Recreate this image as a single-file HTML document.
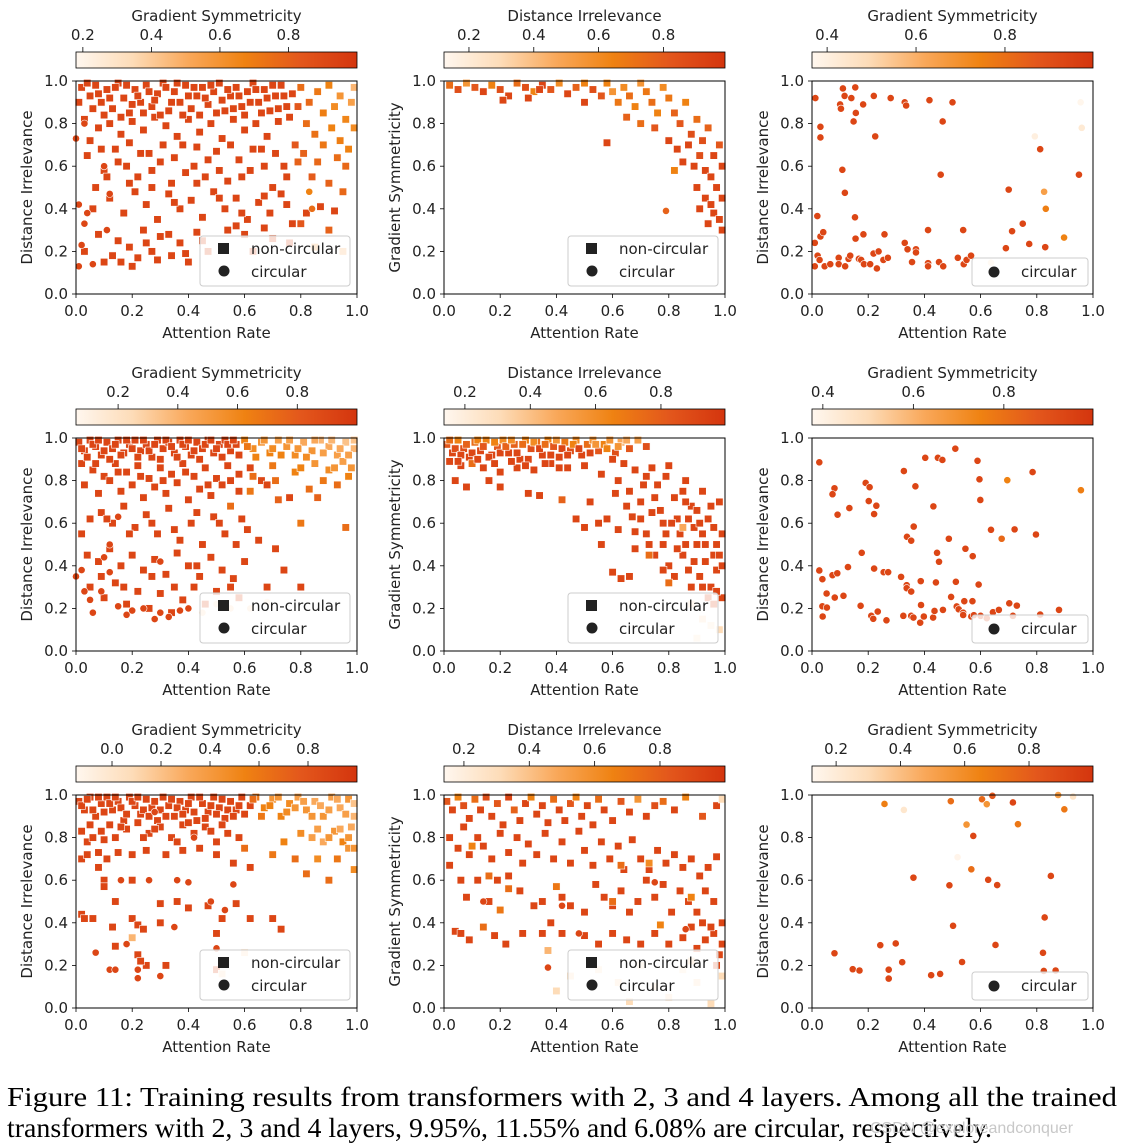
<!DOCTYPE html>
<html><head><meta charset="utf-8">
<style>
html,body{margin:0;padding:0;background:#fff;}
svg{display:block;font-family:"DejaVu Sans","Liberation Sans",sans-serif;}
</style></head>
<body>
<svg id="fig" width="1127" height="1147" viewBox="0 0 1127 1147" xmlns="http://www.w3.org/2000/svg">
<defs>
<linearGradient id="cmap" x1="0" x2="1" y1="0" y2="0">
<stop offset="0" stop-color="#fff7ef"/><stop offset="0.2" stop-color="#fddcb8"/><stop offset="0.4" stop-color="#f9a85a"/><stop offset="0.6" stop-color="#ef8212"/><stop offset="0.8" stop-color="#e3571c"/><stop offset="1" stop-color="#d4350e"/>
</linearGradient>
</defs>
<g id="panels"></g>
<text x="7" y="1106" font-family="Liberation Serif, serif" font-size="27" textLength="1110" lengthAdjust="spacingAndGlyphs">Figure 11: Training results from transformers with 2, 3 and 4 layers.  Among all the trained</text>
<text x="7" y="1137" font-family="Liberation Serif, serif" font-size="27" textLength="985" lengthAdjust="spacingAndGlyphs">transformers with 2, 3 and 4 layers, 9.95%, 11.55% and 6.08% are circular, respectively.</text>
<text x="870" y="1133" font-size="16" fill="#c8c8c8" font-family="Liberation Sans, sans-serif">CSDN @exploreandconquer</text>
</svg>
<script>
// ---- data (x, y, colour value in colormap position; default 0.9) ----
const p1sq=[[0.02,0.97],[0.05,0.93],[0.07,0.98],[0.09,0.9],[0.11,0.96],[0.13,0.87],[0.15,0.99],[0.17,0.92],[0.19,0.85],[0.21,0.96],[0.23,0.9],[0.25,0.98],[0.27,0.88],[0.29,0.94],[0.31,0.99],[0.33,0.86],[0.35,0.95],[0.37,0.9],[0.39,0.98],[0.41,0.87],[0.43,0.93],[0.45,0.97],[0.47,0.89],[0.49,0.95],[0.51,0.99],[0.53,0.86],[0.55,0.93],[0.57,0.97],[0.59,0.88],[0.61,0.95],[0.63,0.99],[0.65,0.9],[0.67,0.96],[0.69,0.86],[0.71,0.93],[0.73,0.98],[0.75,0.88],[0.77,0.94],[0.03,0.82],[0.08,0.78],[0.12,0.8],[0.16,0.75],[0.2,0.81],[0.24,0.77],[0.28,0.83],[0.32,0.79],[0.36,0.74],[0.4,0.82],[0.44,0.76],[0.48,0.8],[0.52,0.73],[0.56,0.82],[0.6,0.77],[0.64,0.8],[0.68,0.74],[0.72,0.81],[0.04,0.65],[0.1,0.58],[0.14,0.68],[0.18,0.6],[0.22,0.55],[0.26,0.66],[0.3,0.62],[0.34,0.52],[0.38,0.7],[0.42,0.6],[0.46,0.55],[0.5,0.67],[0.54,0.53],[0.58,0.63],[0.62,0.58],[0.66,0.68],[0.7,0.5],[0.74,0.6],[0.06,0.4],[0.12,0.45],[0.17,0.38],[0.21,0.48],[0.25,0.42],[0.29,0.35],[0.33,0.47],[0.37,0.4],[0.41,0.44],[0.45,0.36],[0.49,0.48],[0.53,0.4],[0.57,0.45],[0.61,0.35],[0.65,0.43],[0.69,0.38],[0.73,0.47],[0.77,0.33],[0.82,0.38],[0.87,0.41],[0.92,0.39],[0.08,0.28],[0.13,0.18],[0.16,0.15],[0.19,0.22],[0.22,0.17],[0.24,0.3],[0.27,0.2],[0.3,0.27],[0.34,0.18],[0.37,0.24],[0.4,0.15],[0.43,0.29],[0.47,0.2],[0.54,0.3],[0.6,0.28],[0.67,0.31],[0.85,0.22,0.5],[0.95,0.2,0.4],[0.8,0.97,0.7],[0.83,0.9,0.72],[0.86,0.95,0.65],[0.88,0.85,0.62],[0.9,0.98,0.6],[0.92,0.88,0.55],[0.94,0.93,0.5],[0.96,0.82,0.58],[0.98,0.9,0.45],[0.99,0.97,0.35],[0.82,0.8,0.7],[0.85,0.75,0.68],[0.88,0.7,0.65],[0.91,0.78,0.6],[0.94,0.72,0.62],[0.97,0.68,0.6],[0.99,0.78,0.55],[0.81,0.66,0.75],[0.86,0.62,0.72],[0.93,0.64,0.7],[0.96,0.6,0.72],[0.84,0.55,0.78],[0.9,0.52,0.75],[0.95,0.48,0.72],[0.78,0.7,0.8],[0.79,0.88,0.8]];
const p1sqB=[[0.01,0.9],[0.04,0.99],[0.06,0.87],[0.08,0.94],[0.1,0.84],[0.12,0.92],[0.14,0.97],[0.16,0.83],[0.18,0.98],[0.2,0.89],[0.22,0.93],[0.24,0.85],[0.26,0.95],[0.28,0.91],[0.3,0.84],[0.32,0.97],[0.34,0.9],[0.36,0.99],[0.38,0.84],[0.4,0.93],[0.42,0.97],[0.44,0.84],[0.46,0.92],[0.48,0.98],[0.5,0.85],[0.52,0.91],[0.54,0.96],[0.56,0.87],[0.58,0.93],[0.6,0.84],[0.62,0.9],[0.64,0.96],[0.66,0.85],[0.68,0.92],[0.7,0.98],[0.72,0.87],[0.74,0.93],[0.76,0.83],[0.05,0.72],[0.09,0.68],[0.15,0.62],[0.19,0.71],[0.23,0.66],[0.27,0.58],[0.31,0.7],[0.35,0.64],[0.39,0.57],[0.43,0.69],[0.47,0.63],[0.51,0.58],[0.55,0.7],[0.59,0.55],[0.63,0.68],[0.67,0.6],[0.71,0.66],[0.75,0.55],[0.79,0.62,0.75],[0.07,0.5],[0.11,0.55],[0.19,0.52],[0.27,0.5],[0.35,0.43],[0.43,0.52],[0.51,0.45],[0.59,0.38],[0.67,0.46],[0.75,0.42],[0.03,0.2],[0.1,0.15],[0.15,0.25],[0.2,0.13],[0.25,0.24],[0.29,0.16],[0.33,0.28],[0.39,0.19],[0.45,0.25],[0.52,0.22],[0.57,0.32],[0.63,0.2],[0.7,0.26],[0.76,0.24],[0.8,0.33,0.8],[0.9,0.3,0.75]];
const p1ci=[[0.01,0.13],[0.02,0.23],[0.03,0.33],[0.04,0.38],[0.01,0.42],[0.06,0.14],[0.11,0.3],[0.12,0.47],[0.0,0.73],[0.03,0.8],[0.1,0.6],[0.83,0.48,0.6],[0.84,0.4,0.7]];

const p2sq=[[0.02,0.98,0.7],[0.05,0.96,0.85],[0.08,0.99,0.5],[0.11,0.97,0.8],[0.14,0.95,0.9],[0.17,0.98,0.6],[0.2,0.96,0.85],[0.23,0.93,0.9],[0.26,0.99,0.7],[0.29,0.97,0.85],[0.32,0.95,0.6],[0.35,0.98,0.9],[0.38,0.96,0.8],[0.41,0.99,0.55],[0.44,0.94,0.9],[0.47,0.97,0.75],[0.5,0.99,0.6],[0.53,0.96,0.85],[0.56,0.93,0.8],[0.21,0.91,0.9],[0.3,0.92,0.9],[0.58,0.99,0.6],[0.6,0.95,0.5],[0.62,0.9,0.65],[0.64,0.97,0.55],[0.66,0.93,0.7],[0.68,0.88,0.6],[0.7,0.99,0.5],[0.72,0.95,0.65],[0.74,0.9,0.7],[0.76,0.85,0.6],[0.78,0.97,0.55],[0.8,0.92,0.65],[0.65,0.83,0.75],[0.7,0.8,0.7],[0.75,0.78,0.8],[0.82,0.85,0.75],[0.84,0.8,0.8],[0.86,0.9,0.6],[0.88,0.75,0.85],[0.9,0.82,0.7],[0.92,0.72,0.85],[0.94,0.78,0.75],[0.96,0.65,0.9],[0.98,0.7,0.8],[0.99,0.6,0.9],[0.8,0.72],[0.83,0.68],[0.85,0.62],[0.87,0.7],[0.89,0.6],[0.91,0.65,0.85],[0.93,0.58],[0.95,0.55],[0.97,0.5],[0.99,0.45],[0.9,0.5],[0.93,0.45],[0.96,0.38],[0.98,0.35],[0.99,0.3],[0.94,0.33],[0.91,0.4],[0.95,0.42],[0.82,0.58,0.6],[0.58,0.71],[0.5,0.9],[0.34,0.96]];
const p2ci=[[0.79,0.39,0.75]];

const p3ci=[[0.012,0.92],[0.11,0.965],[0.154,0.97],[0.116,0.93],[0.14,0.92],[0.1,0.89],[0.103,0.87],[0.182,0.89],[0.156,0.85],[0.148,0.81],[0.22,0.93],[0.28,0.92],[0.33,0.9],[0.335,0.885],[0.418,0.91],[0.5,0.9],[0.465,0.81],[0.03,0.785],[0.03,0.735],[0.225,0.74],[0.108,0.583],[0.117,0.475],[0.458,0.56],[0.019,0.366],[0.153,0.36],[0.03,0.27],[0.04,0.29],[0.155,0.26],[0.183,0.28],[0.258,0.28],[0.413,0.3],[0.538,0.3],[0.01,0.24],[0.02,0.18],[0.027,0.16],[0.01,0.13],[0.045,0.13],[0.065,0.14],[0.095,0.17],[0.095,0.14],[0.118,0.13],[0.13,0.165],[0.136,0.18],[0.167,0.165],[0.175,0.16],[0.185,0.14],[0.207,0.14],[0.219,0.19],[0.237,0.2],[0.231,0.12],[0.254,0.16],[0.27,0.17],[0.33,0.24],[0.34,0.21],[0.37,0.21],[0.37,0.195],[0.356,0.15],[0.413,0.145],[0.413,0.13],[0.452,0.15],[0.467,0.13],[0.519,0.17],[0.54,0.14],[0.55,0.16],[0.566,0.18],[0.7,0.49],[0.712,0.295],[0.75,0.33],[0.773,0.235],[0.69,0.215],[0.83,0.22],[0.812,0.68],[0.95,0.56],[0.793,0.74,0.06],[0.826,0.48,0.45],[0.832,0.4,0.62],[0.897,0.265,0.6],[0.956,0.9,0.01],[0.96,0.78,0.1],[0.637,0.147,0.15]];

const p4sq=[[0.01,0.98],[0.03,0.94],[0.05,0.99],[0.07,0.96],[0.09,0.92],[0.11,0.98],[0.13,0.95],[0.15,0.99],[0.17,0.93],[0.19,0.97],[0.21,0.99],[0.23,0.94],[0.25,0.97],[0.27,0.91],[0.29,0.99],[0.31,0.95],[0.33,0.98],[0.35,0.93],[0.37,0.99],[0.39,0.96],[0.41,0.92],[0.43,0.98],[0.45,0.95],[0.47,0.99],[0.49,0.93],[0.51,0.97],[0.53,0.99],[0.55,0.94],[0.57,0.97],[0.6,0.99,0.6],[0.63,0.95,0.55],[0.66,0.98,0.5],[0.69,0.93,0.6],[0.72,0.99,0.45],[0.75,0.96,0.5],[0.78,0.92,0.55],[0.81,0.98,0.4],[0.84,0.94,0.5],[0.87,0.99,0.35],[0.9,0.96,0.4],[0.93,0.92,0.45],[0.96,0.98,0.3],[0.99,0.95,0.35],[0.85,0.88,0.5],[0.9,0.85,0.55],[0.95,0.89,0.45],[0.98,0.86,0.5],[0.7,0.87,0.65],[0.78,0.84,0.6],[0.88,0.8,0.65],[0.93,0.78,0.7],[0.97,0.82,0.6],[0.83,0.76,0.7],[0.62,0.75,0.65],[0.72,0.71,0.75],[0.55,0.68,0.7],[0.96,0.58,0.7],[0.86,0.72,0.75],[0.8,0.6,0.65],[0.02,0.88],[0.06,0.85],[0.1,0.82],[0.14,0.88],[0.18,0.84],[0.22,0.87],[0.26,0.81],[0.3,0.86],[0.34,0.83],[0.38,0.88],[0.42,0.82],[0.46,0.86],[0.5,0.81],[0.54,0.87],[0.58,0.83],[0.62,0.86],[0.66,0.8],[0.03,0.78],[0.08,0.74],[0.12,0.8],[0.16,0.75],[0.2,0.78],[0.24,0.72],[0.28,0.77],[0.32,0.74],[0.36,0.79],[0.4,0.71],[0.44,0.76],[0.48,0.73],[0.52,0.78],[0.58,0.75],[0.68,0.78],[0.76,0.72],[0.02,0.55],[0.05,0.62],[0.09,0.65],[0.13,0.6],[0.17,0.68],[0.21,0.58],[0.25,0.64],[0.29,0.55],[0.33,0.67],[0.37,0.52],[0.41,0.6],[0.45,0.5],[0.49,0.63],[0.53,0.55],[0.57,0.5],[0.61,0.57],[0.65,0.52],[0.71,0.48],[0.04,0.45],[0.08,0.42],[0.12,0.48],[0.16,0.4],[0.2,0.45],[0.24,0.38],[0.28,0.43],[0.32,0.36],[0.36,0.46],[0.4,0.4],[0.44,0.35],[0.48,0.44],[0.52,0.38],[0.56,0.34],[0.6,0.42],[0.74,0.38],[0.8,0.3],[0.05,0.3],[0.1,0.25],[0.14,0.32],[0.18,0.22],[0.22,0.28],[0.26,0.2],[0.3,0.27],[0.34,0.18],[0.38,0.24],[0.42,0.3],[0.46,0.22],[0.5,0.28],[0.58,0.25],[0.68,0.3]];
const p4sqB=[[0.02,0.95],[0.04,0.91],[0.06,0.97],[0.08,0.99],[0.1,0.94],[0.12,0.9],[0.14,0.97],[0.16,0.92],[0.18,0.99],[0.2,0.95],[0.22,0.91],[0.24,0.99],[0.26,0.94],[0.28,0.97],[0.3,0.9],[0.32,0.99],[0.34,0.96],[0.36,0.91],[0.38,0.97],[0.4,0.99],[0.42,0.94],[0.44,0.9],[0.46,0.97],[0.48,0.99],[0.5,0.95],[0.52,0.91],[0.54,0.97],[0.56,0.99],[0.58,0.92],[0.61,0.96,0.65],[0.64,0.91,0.6],[0.67,0.99,0.5],[0.7,0.95,0.55],[0.73,0.92,0.6],[0.76,0.99,0.45],[0.79,0.95,0.5],[0.82,0.91,0.55],[0.85,0.99,0.4],[0.88,0.93,0.45],[0.91,0.99,0.35],[0.94,0.95,0.4],[0.97,0.92,0.45],[0.99,0.99,0.3],[0.07,0.88],[0.15,0.84],[0.23,0.82],[0.31,0.8],[0.39,0.84],[0.47,0.78],[0.55,0.8],[0.63,0.82,0.7],[0.71,0.8,0.7],[0.8,0.86,0.6],[0.92,0.86,0.5],[0.11,0.62],[0.19,0.55],[0.27,0.6],[0.35,0.57],[0.43,0.65],[0.51,0.6],[0.59,0.62],[0.09,0.35],[0.17,0.3],[0.27,0.35],[0.35,0.3],[0.43,0.4],[0.55,0.3]];
const p4ci=[[0.0,0.35],[0.02,0.38],[0.03,0.28],[0.05,0.24],[0.06,0.18],[0.09,0.28],[0.12,0.37],[0.15,0.21],[0.18,0.17],[0.2,0.19],[0.24,0.2],[0.28,0.15],[0.3,0.18],[0.33,0.16],[0.37,0.19],[0.4,0.2],[0.1,0.44],[0.15,0.63],[0.12,0.5],[0.3,0.42],[0.45,0.18,0.2],[0.5,0.22,0.15],[0.55,0.2,0.2],[0.62,0.2,0.2],[0.68,0.23,0.15]];

const p5sq=[[0.01,0.97,0.8],[0.03,0.93],[0.05,0.99,0.6],[0.07,0.95,0.85],[0.09,0.91],[0.11,0.98,0.7],[0.13,0.94],[0.15,0.99,0.6],[0.17,0.92],[0.19,0.96,0.8],[0.21,0.99,0.55],[0.23,0.93],[0.25,0.97,0.75],[0.27,0.9],[0.29,0.99,0.6],[0.31,0.95,0.85],[0.33,0.98,0.7],[0.35,0.92],[0.37,0.99,0.6],[0.39,0.96,0.8],[0.41,0.91],[0.43,0.98,0.65],[0.45,0.94,0.85],[0.47,0.99,0.55],[0.49,0.92],[0.51,0.97,0.7],[0.53,0.99,0.5],[0.55,0.94,0.8],[0.57,0.97,0.6],[0.59,0.99,0.5],[0.61,0.93,0.85],[0.63,0.98,0.4],[0.66,0.95,0.8],[0.69,0.99,0.45],[0.72,0.96,0.85],[0.02,0.89],[0.06,0.87],[0.1,0.88,0.7],[0.14,0.86],[0.2,0.84],[0.26,0.86],[0.32,0.85],[0.38,0.88],[0.44,0.86],[0.5,0.87],[0.56,0.83],[0.08,0.77],[0.04,0.8],[0.16,0.8],[0.3,0.74],[0.34,0.73],[0.42,0.71,0.75],[0.2,0.77],[0.6,0.9],[0.62,0.8],[0.64,0.88],[0.66,0.75],[0.68,0.85],[0.7,0.7],[0.72,0.82],[0.74,0.65],[0.76,0.78],[0.78,0.6],[0.8,0.87],[0.82,0.72],[0.84,0.55],[0.86,0.8],[0.88,0.68],[0.9,0.5],[0.92,0.75],[0.94,0.62],[0.96,0.45],[0.98,0.7],[0.99,0.55],[0.58,0.62],[0.62,0.57],[0.65,0.68],[0.68,0.48],[0.72,0.55],[0.75,0.45],[0.78,0.5],[0.8,0.4],[0.83,0.62],[0.85,0.45],[0.87,0.38],[0.89,0.58],[0.91,0.35],[0.93,0.42],[0.95,0.3],[0.97,0.38],[0.99,0.25],[0.88,0.3],[0.94,0.25],[0.97,0.5],[0.99,0.4],[0.86,0.7],[0.9,0.66],[0.75,0.72],[0.7,0.62],[0.66,0.35],[0.68,0.56],[0.55,0.6],[0.5,0.58],[0.47,0.62],[0.78,0.38],[0.82,0.35],[0.92,0.55],[0.96,0.58],[0.73,0.45,0.7],[0.85,0.58,0.4],[0.8,0.32,0.7],[0.52,0.7],[0.56,0.5],[0.6,0.37],[0.63,0.34],[0.92,0.15,0.2],[0.95,0.12,0.15],[0.98,0.1,0.2],[0.88,0.22,0.2],[0.9,0.06,0.15],[0.97,0.28,0.2]];
const p5sqB=[[0.02,0.99,0.7],[0.04,0.95,0.85],[0.06,0.92],[0.08,0.97,0.75],[0.1,0.93],[0.12,0.99,0.6],[0.14,0.96,0.8],[0.16,0.91],[0.18,0.98,0.6],[0.2,0.93],[0.22,0.96,0.75],[0.24,0.99,0.55],[0.26,0.93],[0.28,0.97,0.7],[0.3,0.9],[0.32,0.98,0.55],[0.34,0.95],[0.36,0.97,0.7],[0.38,0.92],[0.4,0.99,0.5],[0.42,0.95],[0.44,0.92],[0.46,0.97,0.6],[0.48,0.95],[0.52,0.93],[0.54,0.97,0.5],[0.58,0.95,0.6],[0.62,0.96,0.5],[0.65,0.99,0.4],[0.05,0.89],[0.12,0.9],[0.18,0.88],[0.24,0.89],[0.29,0.87],[0.36,0.88],[0.41,0.86],[0.61,0.74],[0.67,0.63],[0.71,0.78],[0.73,0.5],[0.77,0.66],[0.79,0.55],[0.81,0.6],[0.83,0.48],[0.85,0.75],[0.87,0.62],[0.89,0.42],[0.91,0.6],[0.93,0.5],[0.95,0.68],[0.97,0.28],[0.98,0.45],[0.92,0.3],[0.96,0.22],[0.86,0.5],[0.79,0.82],[0.74,0.86]];
const p5ci=[];

const p6ci=[[0.026,0.886],[0.51,0.95],[0.403,0.907],[0.448,0.907],[0.464,0.897],[0.589,0.893],[0.785,0.84],[0.327,0.845],[0.596,0.806],[0.191,0.789],[0.205,0.769],[0.08,0.764],[0.073,0.736],[0.368,0.773],[0.202,0.704],[0.229,0.682],[0.133,0.671],[0.432,0.679],[0.599,0.709],[0.091,0.64],[0.221,0.643],[0.362,0.584],[0.338,0.536],[0.353,0.518],[0.487,0.527],[0.637,0.569],[0.721,0.571],[0.797,0.547],[0.546,0.48],[0.445,0.461],[0.572,0.445],[0.452,0.419],[0.177,0.461],[0.026,0.378],[0.037,0.337],[0.073,0.356],[0.09,0.365],[0.128,0.394],[0.221,0.387],[0.255,0.37],[0.271,0.37],[0.317,0.348],[0.337,0.309],[0.337,0.295],[0.353,0.279],[0.387,0.328],[0.441,0.322],[0.512,0.325],[0.593,0.312],[0.495,0.254],[0.052,0.27],[0.081,0.251],[0.112,0.259],[0.037,0.21],[0.053,0.204],[0.038,0.162],[0.173,0.212],[0.211,0.165],[0.218,0.151],[0.234,0.185],[0.265,0.144],[0.325,0.165],[0.353,0.165],[0.361,0.157],[0.385,0.133],[0.398,0.162],[0.388,0.216],[0.431,0.157],[0.436,0.188],[0.466,0.193],[0.515,0.209],[0.522,0.196],[0.538,0.18],[0.538,0.169],[0.542,0.234],[0.571,0.234],[0.567,0.162],[0.576,0.168],[0.6,0.165],[0.622,0.154],[0.644,0.182],[0.665,0.193],[0.702,0.224],[0.729,0.213],[0.715,0.165],[0.812,0.171],[0.879,0.193],[0.695,0.802,0.6],[0.675,0.527,0.72],[0.957,0.755,0.62]];

const p7sq=[[0.01,0.97],[0.03,0.93],[0.05,0.99],[0.07,0.9],[0.09,0.96],[0.11,0.99],[0.13,0.93],[0.15,0.97],[0.17,0.88],[0.19,0.99],[0.21,0.95],[0.23,0.91],[0.25,0.98],[0.27,0.94],[0.29,0.88],[0.31,0.99],[0.33,0.95],[0.35,0.9],[0.37,0.97],[0.39,0.93],[0.41,0.99],[0.43,0.88],[0.45,0.96],[0.47,0.92],[0.49,0.99],[0.51,0.94],[0.53,0.89],[0.55,0.97],[0.57,0.93],[0.59,0.99],[0.62,0.95],[0.64,0.99,0.65],[0.67,0.94,0.6],[0.7,0.98,0.5],[0.73,0.9,0.6],[0.76,0.96,0.55],[0.79,0.99,0.45],[0.82,0.93,0.5],[0.85,0.97,0.4],[0.88,0.9,0.5],[0.91,0.99,0.45],[0.94,0.94,0.4],[0.97,0.98,0.5],[0.99,0.9,0.35],[0.8,0.82,0.55],[0.84,0.8,0.45],[0.88,0.78,0.4],[0.92,0.83,0.5],[0.95,0.78,0.6],[0.98,0.85,0.4],[0.74,0.78,0.6],[0.86,0.7,0.55],[0.93,0.7,0.65],[0.97,0.75,0.5],[0.78,0.7,0.7],[0.7,0.72,0.65],[0.6,0.75,0.7],[0.99,0.65,0.55],[0.9,0.6,0.7],[0.82,0.63,0.7],[0.02,0.83],[0.04,0.78],[0.06,0.8],[0.09,0.83],[0.12,0.86],[0.14,0.8],[0.18,0.84],[0.22,0.87],[0.26,0.82],[0.3,0.85],[0.34,0.8],[0.38,0.86],[0.42,0.82],[0.46,0.85],[0.5,0.78],[0.54,0.82],[0.58,0.8],[0.02,0.7],[0.04,0.72],[0.08,0.73],[0.11,0.7],[0.15,0.73],[0.2,0.72],[0.25,0.74],[0.32,0.72],[0.38,0.74],[0.44,0.75],[0.5,0.72],[0.56,0.68],[0.62,0.66],[0.08,0.66],[0.1,0.6],[0.1,0.57],[0.2,0.6],[0.14,0.5],[0.3,0.49],[0.36,0.5],[0.4,0.47],[0.47,0.48],[0.52,0.42],[0.57,0.49],[0.62,0.42],[0.2,0.42],[0.22,0.39],[0.3,0.4],[0.02,0.44],[0.03,0.42],[0.06,0.42],[0.24,0.37],[0.13,0.38],[0.5,0.35],[0.7,0.42],[0.73,0.37],[0.14,0.29],[0.22,0.25],[0.25,0.2],[0.23,0.22],[0.32,0.2],[0.5,0.18],[0.2,0.33,0.35],[0.52,0.16,0.2],[0.6,0.26,0.2]];
const p7sqB=[[0.02,0.95],[0.04,0.98],[0.06,0.93],[0.08,0.99],[0.1,0.92],[0.12,0.96],[0.14,0.99],[0.16,0.94],[0.18,0.91],[0.2,0.97],[0.22,0.99],[0.24,0.93],[0.26,0.9],[0.28,0.97],[0.3,0.93],[0.32,0.9],[0.34,0.98],[0.36,0.94],[0.38,0.91],[0.4,0.96],[0.42,0.92],[0.44,0.99],[0.46,0.89],[0.48,0.95],[0.5,0.91],[0.52,0.98],[0.54,0.93],[0.56,0.9],[0.58,0.95],[0.6,0.91],[0.63,0.98,0.7],[0.66,0.9,0.65],[0.69,0.95,0.6],[0.72,0.99,0.5],[0.75,0.92,0.55],[0.78,0.94,0.5],[0.81,0.97,0.45],[0.84,0.9,0.5],[0.87,0.95,0.4],[0.9,0.93,0.45],[0.93,0.98,0.4],[0.96,0.91,0.45],[0.99,0.96,0.3],[0.86,0.84,0.45],[0.9,0.8,0.5],[0.94,0.84,0.4],[0.97,0.8,0.5],[0.99,0.75,0.5],[0.05,0.86],[0.1,0.79],[0.16,0.85],[0.24,0.8],[0.28,0.84],[0.36,0.78],[0.4,0.87],[0.48,0.83],[0.52,0.86]];
const p7ci=[[0.07,0.26],[0.12,0.18],[0.14,0.18],[0.22,0.18],[0.22,0.14],[0.18,0.3],[0.3,0.15],[0.16,0.6],[0.26,0.6],[0.35,0.38],[0.4,0.59],[0.48,0.5],[0.53,0.46],[0.28,0.92],[0.36,0.6],[0.56,0.58],[0.42,0.8],[0.5,0.28]];

const p8sq=[[0.01,0.97,0.8],[0.03,0.93],[0.05,0.99,0.6],[0.07,0.95,0.85],[0.09,0.89],[0.11,0.98,0.7],[0.13,0.93],[0.15,0.99,0.85],[0.17,0.9],[0.19,0.96,0.8],[0.21,0.86],[0.23,0.99],[0.25,0.93,0.75],[0.27,0.88],[0.29,0.96],[0.31,0.99,0.6],[0.33,0.91],[0.35,0.95],[0.37,0.87],[0.39,0.98,0.7],[0.41,0.93],[0.43,0.88],[0.45,0.96,0.8],[0.47,0.99,0.6],[0.49,0.9],[0.51,0.95],[0.53,0.86],[0.55,0.98,0.7],[0.57,0.93],[0.6,0.88],[0.63,0.97,0.8],[0.66,0.92],[0.69,0.98,0.5],[0.72,0.9],[0.75,0.95,0.85],[0.78,0.97,0.7],[0.82,0.93],[0.86,0.99,0.6],[0.92,0.9,0.8],[0.97,0.95],[0.99,0.98,0.2],[0.02,0.8],[0.05,0.75],[0.07,0.85],[0.09,0.72],[0.12,0.8],[0.14,0.76],[0.17,0.7],[0.2,0.82],[0.23,0.73],[0.26,0.8],[0.28,0.68],[0.3,0.77],[0.33,0.72],[0.36,0.82],[0.39,0.7],[0.42,0.78],[0.45,0.68],[0.48,0.83],[0.5,0.74],[0.53,0.67],[0.56,0.78],[0.59,0.7],[0.62,0.76],[0.64,0.65],[0.67,0.79],[0.7,0.7],[0.73,0.65],[0.76,0.74],[0.79,0.68],[0.82,0.72],[0.85,0.66],[0.88,0.7],[0.91,0.62],[0.94,0.66],[0.97,0.71],[0.02,0.67],[0.06,0.6],[0.08,0.52],[0.12,0.6],[0.16,0.5],[0.19,0.6],[0.23,0.62],[0.27,0.55],[0.32,0.48],[0.35,0.5],[0.38,0.4],[0.42,0.52],[0.45,0.48],[0.5,0.45],[0.54,0.58],[0.57,0.52],[0.6,0.48],[0.63,0.55],[0.66,0.45],[0.69,0.5],[0.72,0.6],[0.75,0.52],[0.78,0.58],[0.81,0.45],[0.84,0.55],[0.87,0.5],[0.9,0.45],[0.93,0.55],[0.96,0.5],[0.99,0.4],[0.04,0.36],[0.06,0.35],[0.09,0.32],[0.18,0.34],[0.22,0.3],[0.28,0.35],[0.35,0.35],[0.42,0.35],[0.5,0.34],[0.55,0.3],[0.6,0.35],[0.65,0.32],[0.7,0.3],[0.75,0.35],[0.8,0.3],[0.85,0.33],[0.9,0.28],[0.93,0.32],[0.96,0.35],[0.99,0.3],[0.88,0.38],[0.92,0.4],[0.95,0.38],[0.98,0.25],[0.97,0.2],[0.1,0.76,0.6],[0.16,0.62,0.7],[0.14,0.38,0.7],[0.2,0.46,0.65],[0.23,0.56,0.7],[0.4,0.57,0.65],[0.63,0.67,0.7],[0.73,0.68,0.55],[0.88,0.52,0.6],[0.77,0.39,0.6],[0.37,0.27,0.35],[0.6,0.5,0.7],[0.4,0.08,0.2],[0.45,0.15,0.2],[0.55,0.18,0.15],[0.62,0.12,0.2],[0.66,0.03,0.2],[0.7,0.2,0.15],[0.75,0.1,0.2],[0.8,0.05,0.2],[0.85,0.18,0.15],[0.9,0.12,0.2],[0.95,0.02,0.2],[0.99,0.15,0.2],[0.88,0.22,0.25]];
const p8ci=[[0.37,0.19],[0.14,0.5],[0.48,0.35],[0.42,0.48],[0.75,0.59],[0.86,0.37]];

const p9ci=[[0.258,0.958,0.62],[0.327,0.93,0.12],[0.494,0.971,0.7],[0.605,0.98,0.72],[0.622,0.957,0.5],[0.642,0.996,0.8],[0.715,0.965],[0.876,1.0,0.45],[0.929,0.993,0.15],[0.898,0.933,0.65],[0.733,0.863,0.65],[0.55,0.861,0.5],[0.574,0.808],[0.518,0.708,0.02],[0.567,0.651,0.7],[0.361,0.612],[0.627,0.602],[0.659,0.577],[0.489,0.576],[0.85,0.62],[0.828,0.425],[0.502,0.386],[0.243,0.295],[0.298,0.303],[0.653,0.296],[0.08,0.257],[0.321,0.215],[0.534,0.216],[0.822,0.259],[0.145,0.182],[0.169,0.176],[0.273,0.18],[0.273,0.138],[0.424,0.154],[0.456,0.16],[0.825,0.174],[0.867,0.176]];

// colorbar tick labels per panel and colorbar value range
const cbTitles=["Gradient Symmetricity","Distance Irrelevance","Gradient Symmetricity","Gradient Symmetricity","Distance Irrelevance","Gradient Symmetricity","Gradient Symmetricity","Distance Irrelevance","Gradient Symmetricity"];
const cbTicks=[[0.2,0.4,0.6,0.8],[0.2,0.4,0.6,0.8],[0.4,0.6,0.8],[0.2,0.4,0.6,0.8],[0.2,0.4,0.6,0.8],[0.4,0.6,0.8],[0.0,0.2,0.4,0.6,0.8],[0.2,0.4,0.6,0.8],[0.2,0.4,0.6,0.8]];
const cbMin=[0.18,0.123,0.366,0.059,0.136,0.376,-0.147,0.139,0.125];
const cbMax=[1.0,0.99,0.998,1.0,0.996,0.997,1.0,0.999,0.999];
const yLabels=["Distance Irrelevance","Gradient Symmetricity","Distance Irrelevance"];
const axTicks=[0.0,0.2,0.4,0.6,0.8,1.0];
const squares=[p1sq.concat(p1sqB),p2sq,[],p4sq.concat(p4sqB),p5sq.concat(p5sqB),[],p7sq.concat(p7sqB),p8sq,[]];
const circles=[p1ci,p2ci,p3ci,p4ci,p5ci,p6ci,p7ci,p8ci,p9ci];

// ---- drawing ----
const NS="http://www.w3.org/2000/svg";
const root=document.getElementById('panels');
const stops=[[0,[255,247,239]],[0.2,[253,220,184]],[0.4,[249,168,90]],[0.6,[239,130,18]],[0.8,[227,87,28]],[1,[212,53,14]]];
function cmap(t){t=Math.max(0,Math.min(1,t));for(let i=1;i<stops.length;i++){if(t<=stops[i][0]){const a=stops[i-1],b=stops[i];const f=(t-a[0])/(b[0]-a[0]);const c=a[1].map((v,k)=>Math.round(v+(b[1][k]-v)*f));return `rgb(${c[0]},${c[1]},${c[2]})`;}}return 'rgb(212,53,14)';}
function mk(tag,attrs,parent){const e=document.createElementNS(NS,tag);for(const k in attrs)e.setAttribute(k,attrs[k]);(parent||root).appendChild(e);return e;}
function txt(s,attrs,parent){const e=mk('text',attrs,parent);e.textContent=s;return e;}
const colX=[76,444,812],rowY=[81,438,795],W=281,H=213;
for(let p=0;p<9;p++){
  const r=Math.floor(p/3),c=p%3,x0=colX[c],y0=rowY[r];
  const g=mk('g',{});
  
  
  const sx=v=>x0+v*W, sy=v=>y0+H-v*H;
  const cb=mk('g',{},g);
  
  
  mk('rect',{x:x0,y:y0-29,width:W,height:16,fill:'url(#cmap)',stroke:'#000','stroke-width':0.8},cb);
  const ct=txt(cbTitles[p],{x:x0+W/2,y:y0-60,'text-anchor':'middle','font-size':15,fill:'#222'},cb);
  
  
  const cbx=v=>x0+(v-cbMin[p])/(cbMax[p]-cbMin[p])*W;
  cbTicks[p].forEach(v=>{const X=cbx(v);mk('line',{x1:X,x2:X,y1:y0-29,y2:y0-34,stroke:'#000','stroke-width':0.8},cb);
    const t=txt(v.toFixed(1),{x:X,y:y0-41,'text-anchor':'middle','font-size':15,fill:'#222'},cb);
    
    });
  squares[p].forEach(d=>{const s=7.5;const e=mk('rect',{x:sx(d[0])-s/2,y:sy(d[1])-s/2,width:s,height:s,fill:cmap(d.length>2?d[2]:0.9),stroke:'#fff','stroke-width':0.6},g);
    
    });
  circles[p].forEach(d=>{const e=mk('circle',{cx:sx(d[0]),cy:sy(d[1]),r:3.6,fill:cmap(d.length>2?d[2]:0.9),stroke:'#fff','stroke-width':0.6},g);
    
    });
  mk('rect',{x:x0,y:y0,width:W,height:H,fill:'none',stroke:'#000','stroke-width':1},g);
  axTicks.forEach(v=>{
    mk('line',{x1:sx(v),x2:sx(v),y1:y0+H,y2:y0+H+4,stroke:'#000','stroke-width':0.8},g);
    const tx=txt(v.toFixed(1),{x:sx(v),y:y0+H+22,'text-anchor':'middle','font-size':15,fill:'#222'},g);
    
    
    mk('line',{x1:x0-4,x2:x0,y1:sy(v),y2:sy(v),stroke:'#000','stroke-width':0.8},g);
    const ty=txt(v.toFixed(1),{x:x0-8,y:sy(v)+5,'text-anchor':'end','font-size':15,fill:'#222'},g);
    
    
  });
  const xl=txt('Attention Rate',{x:x0+W/2,y:y0+H+44,'text-anchor':'middle','font-size':15,fill:'#222'},g);
  
  
  const yl=txt(yLabels[c],{x:0,y:0,'text-anchor':'middle','font-size':15,fill:'#222',transform:`translate(${x0-44},${y0+H/2}) rotate(-90)`},g);
  
  
  const lg=mk('g',{},g);
  
  
  if(c<2){
    mk('rect',{x:x0+W-157,y:y0+H-58,width:150,height:50,rx:3,fill:'rgba(255,255,255,0.8)',stroke:'#ccc','stroke-width':1},lg);
    mk('rect',{x:x0+W-139,y:y0+H-51,width:11,height:11,fill:'#222'},lg);
    mk('circle',{cx:x0+W-133,cy:y0+H-23,r:5.5,fill:'#222'},lg);
    const l1=txt('non-circular',{x:x0+W-106,y:y0+H-40,'font-size':15,fill:'#222'},lg);
    
    
    const l2=txt('circular',{x:x0+W-106,y:y0+H-17,'font-size':15,fill:'#222'},lg);
    
    
  } else {
    mk('rect',{x:x0+W-121,y:y0+H-36,width:116,height:28,rx:3,fill:'rgba(255,255,255,0.8)',stroke:'#ccc','stroke-width':1},lg);
    mk('circle',{cx:x0+W-99,cy:y0+H-22,r:5.5,fill:'#222'},lg);
    const l2=txt('circular',{x:x0+W-72,y:y0+H-17,'font-size':15,fill:'#222'},lg);
    
    
  }
}
</script>
</body></html>
